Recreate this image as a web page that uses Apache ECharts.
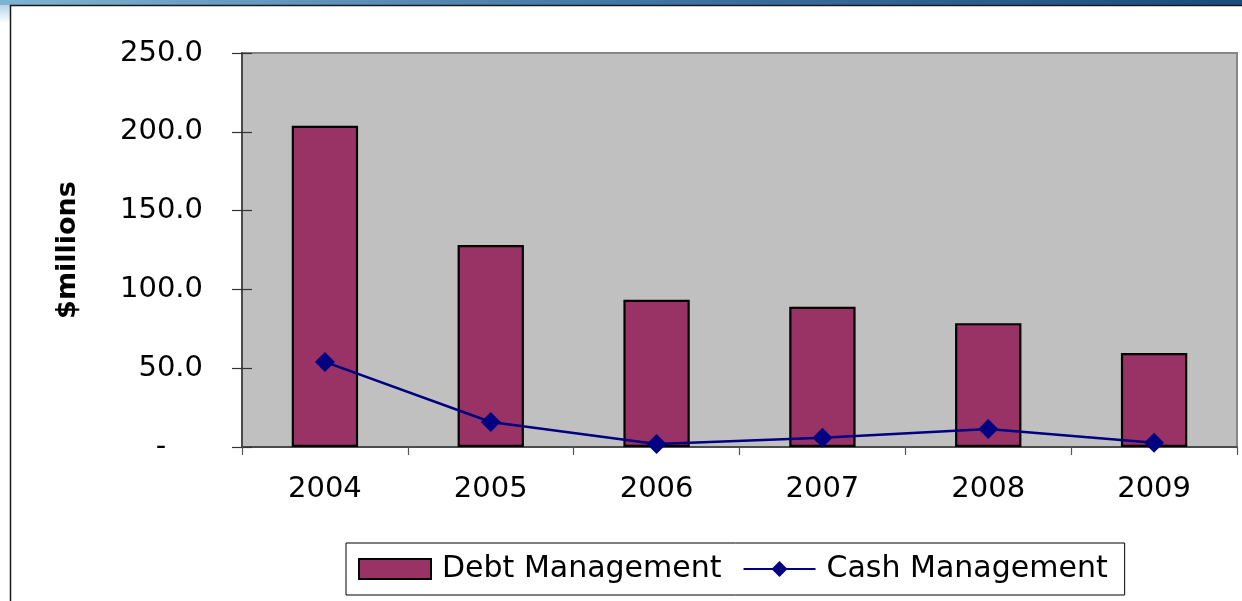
<!DOCTYPE html>
<html>
<head>
<meta charset="utf-8">
<script src="https://cdn.jsdelivr.net/npm/echarts@6/dist/echarts.min.js"></script>
<style>
  html, body { margin: 0; padding: 0; background: #ffffff; }
  #chart { width: 1242px; height: 601px; }
</style>
</head>
<body>
<div id="chart"></div>
<script>
// Annual costs, $ millions
const years = ['2004', '2005', '2006', '2007', '2008', '2009'];
const debtManagement = [203.8, 128.2, 93.4, 89.0, 78.6, 59.6];
const cashManagement = [54.0, 15.9, 1.9, 5.9, 11.4, 2.7];
// Value axis ticks
const yTicks = [0, 50, 100, 150, 200, 250];

const FONT = 'DejaVu Sans';
const yMin = yTicks[0];
const yMax = yTicks[yTicks.length - 1];
const yStep = yTicks[1] - yTicks[0];

const chart = echarts.init(document.getElementById('chart'));

chart.setOption({
  animation: false,
  backgroundColor: '#ffffff',
  textStyle: { fontFamily: FONT },
  graphic: [
    {
      type: 'rect', silent: true, z: 100,
      shape: { x: 0, y: 0, width: 1242, height: 5 },
      style: {
        fill: new echarts.graphic.LinearGradient(0, 0, 1, 0, [
          { offset: 0, color: '#7fb3d2' },
          { offset: 0.5, color: '#3f77a6' },
          { offset: 1, color: '#1b4a7c' }
        ])
      }
    },
    {
      type: 'rect', silent: true, z: 100,
      shape: { x: 0, y: 5, width: 10, height: 18 },
      style: {
        fill: new echarts.graphic.LinearGradient(0, 0, 0, 1, [
          { offset: 0, color: '#b7d3e6' },
          { offset: 1, color: '#ffffff' }
        ])
      }
    },
    {
      type: 'line', silent: true, z: 100,
      shape: { x1: 10, y1: 5.5, x2: 1242, y2: 5.5 },
      style: { stroke: '#1a1a1a', lineWidth: 1.5 }
    },
    {
      type: 'line', silent: true, z: 100,
      shape: { x1: 10.5, y1: 5, x2: 10.5, y2: 601 },
      style: { stroke: '#1a1a1a', lineWidth: 1.5 }
    }
  ],
  grid: {
    left: 242, right: 5, top: 53, bottom: 154,
    show: true,
    backgroundColor: '#c0c0c0',
    borderColor: '#868686',
    borderWidth: 2
  },
  legend: {
    left: 346, top: 543,
    orient: 'horizontal',
    padding: [11, 17, 11, 12],
    itemGap: 21,
    itemWidth: 72,
    itemHeight: 20,
    borderColor: '#000000',
    borderWidth: 1,
    backgroundColor: '#ffffff',
    textStyle: {
      fontFamily: FONT, fontSize: 30, color: '#000000',
      lineHeight: 30, padding: [0, 0, 0, 6]
    },
    data: [
      { name: 'Debt Management', icon: 'rect' },
      { name: 'Cash Management' }
    ]
  },
  xAxis: {
    type: 'category',
    data: years,
    boundaryGap: true,
    axisLine: { lineStyle: { color: '#3a3a3a', width: 1.5 } },
    axisTick: { show: true, length: 8, lineStyle: { color: '#555555', width: 1.2 } },
    axisLabel: { fontFamily: FONT, fontSize: 29, color: '#000000', margin: 28 },
    splitLine: { show: false }
  },
  yAxis: [
    {
      type: 'value',
      position: 'left',
      min: yMin, max: yMax, interval: yStep,
      name: '$millions',
      nameLocation: 'middle',
      nameRotate: 90,
      nameGap: 161,
      nameTextStyle: { fontFamily: FONT, fontSize: 27, fontWeight: 'bold', color: '#000000' },
      axisLine: { show: true, lineStyle: { color: '#4a4a4a', width: 2 } },
      axisTick: { show: true, length: 10, lineStyle: { color: '#333333', width: 1.2 } },
      axisLabel: {
        fontFamily: FONT, fontSize: 29, color: '#000000', margin: 39,
        formatter: function (v) { return v === 0 ? '-    ' : v.toFixed(1); }
      },
      splitLine: { show: false }
    },
    {
      // inner half of the crossing tick marks
      type: 'value',
      position: 'left',
      offset: 0,
      min: yMin, max: yMax, interval: yStep,
      axisLine: { show: false },
      axisTick: { show: true, inside: true, length: 10, lineStyle: { color: '#333333', width: 1.2 } },
      axisLabel: { show: false },
      splitLine: { show: false }
    }
  ],
  series: [
    {
      name: 'Debt Management',
      type: 'bar',
      data: debtManagement,
      barWidth: '40%',
      itemStyle: { color: '#993366', borderColor: '#000000', borderWidth: 2.2 },
      z: 2
    },
    {
      name: 'Cash Management',
      type: 'line',
      data: cashManagement,
      symbol: 'diamond',
      symbolSize: 20,
      lineStyle: { color: '#000080', width: 2.6 },
      itemStyle: { color: '#000080' },
      z: 3
    }
  ]
});
</script>
</body>
</html>
